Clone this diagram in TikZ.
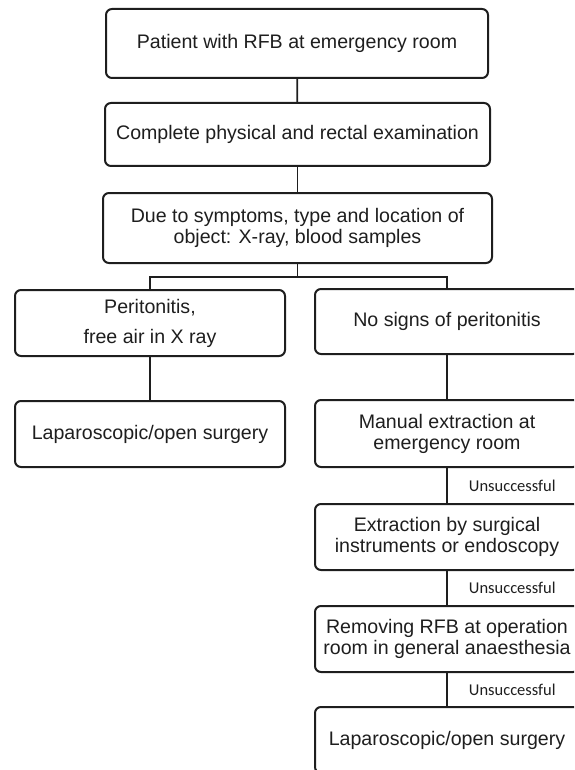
\documentclass[tikz,border=0pt]{standalone}
\usepackage{fontspec}
\setmainfont{Liberation Sans}
\newfontfamily\lblfont{Carlito}
\usetikzlibrary{positioning}
\definecolor{ink}{HTML}{1E1E1E}
\tikzset{
	step box/.style = {draw=ink, line width=2pt, rounded corners=6pt, align=center,
		text=ink, minimum width=264pt, minimum height=66pt, inner sep=2pt,
		font=\fontsize{19.6}{21}\selectfont},
	link/.style     = {draw=ink, line width=1.8pt},
	fail/.style     = {midway, right, inner sep=0pt, xshift=21pt, text=ink,
		font=\lblfont\fontsize{16.5}{18}\selectfont},
	split/.style    = {coordinate}
}

\begin{document}
\begin{tikzpicture}[x=1pt, y=-1pt]
\useasboundingbox (0,0) rectangle (574,770);
\clip (0,0) rectangle (574,770);
% top of the chart
\node[step box, minimum width=382pt, minimum height=69pt] (arrival) at (297,43.5) {Patient with RFB at emergency room};
\node[step box, minimum width=385pt, minimum height=63pt] (exam) at (297.5,134.5) {Complete physical and rectal examination};
\node[step box, minimum width=389pt, minimum height=70pt] (workup) at (297.5,228) {Due to symptoms, type and location of\\ object: X-ray, blood samples};
\node[split] (fork) at (297.5,277) {};
% left branch
\node[step box, minimum width=270pt] (perit) at (150,323) {Peritonitis,\\[9pt] free air in X ray};
\node[step box, minimum width=270pt] (surgA) at (150,434) {Laparoscopic/open surgery};
% right branch
\node[step box, minimum height=65pt] (noperit) at (447,321.5) {No signs of peritonitis};
\node[step box, minimum height=67pt] (manual) at (447,433.5) {Manual extraction at\\ emergency room};
\node[step box] (instr) at (447,537) {Extraction by surgical\\ instruments or endoscopy};
\node[step box] (theatre) at (447,639) {Removing RFB at operation\\ room in general anaesthesia};
\node[step box] (surgB) at (447,740) {Laparoscopic/open surgery};

\draw[link] (arrival) -- (exam);
\draw[link] (exam) -- (workup);
\draw[link] (workup) -- (fork);
\draw[link] (fork) -| (perit);
\draw[link] (fork) -| (noperit);
\draw[link] (perit) -- (surgA);
\draw[link] (noperit) -- (manual);
\draw[link] (manual) -- node[fail] {Unsuccessful} (instr);
\draw[link] (instr) -- node[fail] {Unsuccessful} (theatre);
\draw[link] (theatre) -- node[fail] {Unsuccessful} (surgB);
\end{tikzpicture}
\end{document}
